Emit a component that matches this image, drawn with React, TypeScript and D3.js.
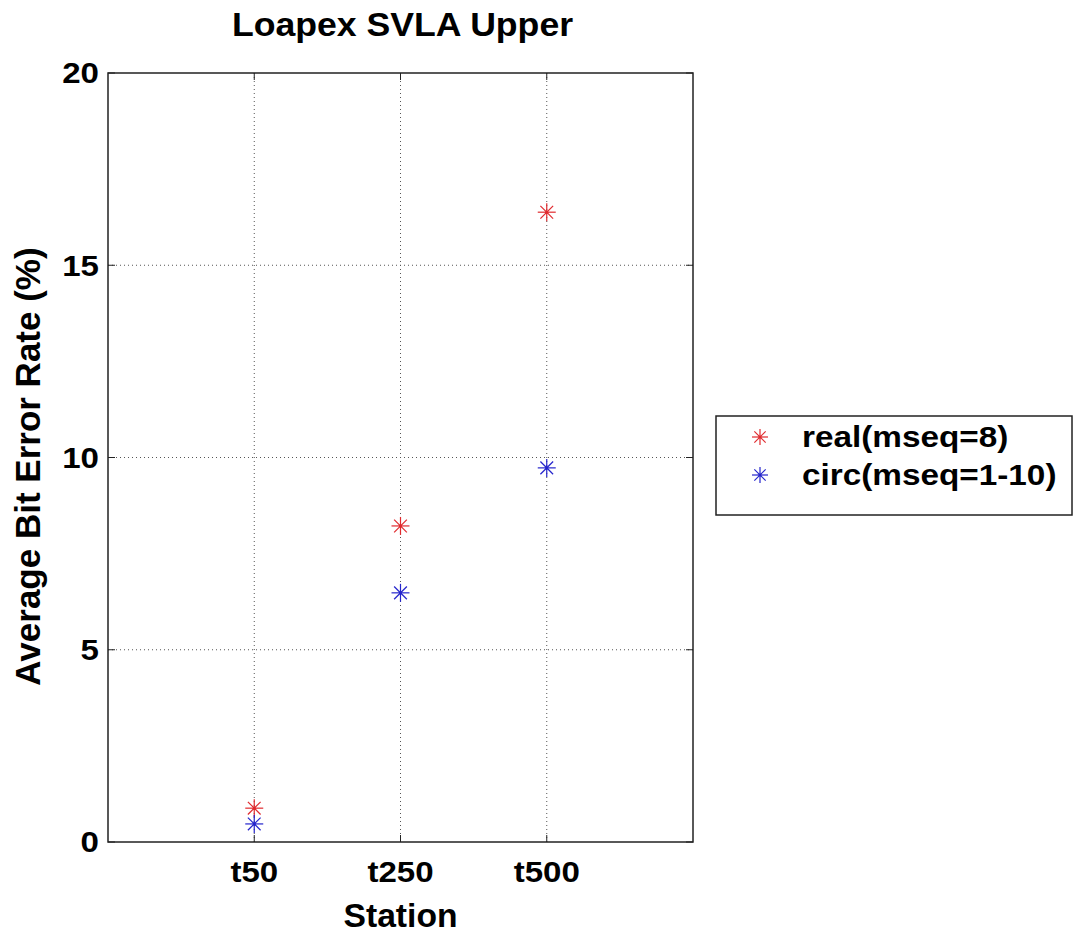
import React, { useEffect, useRef } from 'react';
import * as d3 from 'd3';

const stations = ['t50', 't250', 't500'];
const realValues = [0.88, 8.22, 16.38];
const circValues = [0.47, 6.48, 9.73];
const yTicks = [0, 5, 10, 15, 20];
const seriesNames = ['real(mseq=8)', 'circ(mseq=1-10)'];
const seriesColors = ['#e02a2e', '#2424cc'];

const width = 1074;
const height = 933;

type G = d3.Selection<SVGGElement, unknown, null, undefined>;

export default function App() {
  const svgRef = useRef<SVGSVGElement>(null);

  useEffect(() => {
    if (!svgRef.current) return;
    const svg = d3.select(svgRef.current);
    svg.selectAll('*').remove();

    const margin = { top: 73, right: 381, bottom: 91, left: 108 };
    const innerWidth = width - margin.left - margin.right;
    const innerHeight = height - margin.top - margin.bottom;
    const font = "'Liberation Sans', Arial, sans-serif";

    const x = d3.scaleLinear().domain([0, stations.length + 1]).range([0, innerWidth]);
    const y = d3.scaleLinear().domain([0, 20]).range([innerHeight, 0]);

    // text helper: horizontal stretch to mimic the wide Helvetica of the original
    const label = (parent: any, tx: number, ty: number, txt: string, size: number, sx: number, anchor: string, dy = '0') => {
      parent.append('g')
        .attr('transform', `translate(${tx},${ty}) scale(${sx},1)`)
        .append('text')
        .attr('text-anchor', anchor)
        .attr('dy', dy)
        .style('font-family', font).style('font-weight', 'bold').style('font-size', `${size}px`)
        .text(txt);
    };

    const g = svg.append('g').attr('transform', `translate(${margin.left},${margin.top})`);

    // grid
    stations.forEach((_, i) => {
      g.append('line')
        .attr('x1', x(i + 1)).attr('x2', x(i + 1))
        .attr('y1', 0).attr('y2', innerHeight)
        .attr('stroke', '#555').attr('stroke-width', 1).attr('stroke-dasharray', '1,3');
    });
    yTicks.slice(1, -1).forEach(t => {
      g.append('line')
        .attr('x1', 0).attr('x2', innerWidth)
        .attr('y1', y(t)).attr('y2', y(t))
        .attr('stroke', '#555').attr('stroke-width', 1).attr('stroke-dasharray', '1,3');
    });

    // box
    g.append('rect')
      .attr('x', 0).attr('y', 0).attr('width', innerWidth).attr('height', innerHeight)
      .attr('fill', 'none').attr('stroke', '#222').attr('stroke-width', 1.5);

    // ticks (inside, both sides)
    const tl = 7;
    yTicks.forEach(t => {
      g.append('line').attr('x1', 0).attr('x2', tl).attr('y1', y(t)).attr('y2', y(t)).attr('stroke', '#222');
      g.append('line').attr('x1', innerWidth - tl).attr('x2', innerWidth).attr('y1', y(t)).attr('y2', y(t)).attr('stroke', '#222');
      label(g, -9, y(t), String(t), 29, 1.14, 'end', '0.36em');
    });
    stations.forEach((s, i) => {
      g.append('line').attr('x1', x(i + 1)).attr('x2', x(i + 1)).attr('y1', innerHeight).attr('y2', innerHeight - tl).attr('stroke', '#222');
      g.append('line').attr('x1', x(i + 1)).attr('x2', x(i + 1)).attr('y1', 0).attr('y2', tl).attr('stroke', '#222');
      label(g, x(i + 1), innerHeight + 40, s, 29, 1.14, 'middle');
    });

    // star marker
    const star = (sel: G, cx: number, cy: number, color: string, r: number) => {
      const m = sel.append('g').attr('transform', `translate(${cx},${cy})`);
      const d = r * Math.SQRT1_2;
      [[-r, 0, r, 0], [0, -r, 0, r], [-d, -d, d, d], [-d, d, d, -d]].forEach(([a, b, c, e]) => {
        m.append('line').attr('x1', a).attr('y1', b).attr('x2', c).attr('y2', e)
          .attr('stroke', color).attr('stroke-width', 1.2);
      });
      m.append('circle').attr('r', 1.6).attr('fill', color);
    };

    [realValues, circValues].forEach((vals, si) => {
      vals.forEach((v, i) => star(g, x(i + 1), y(v), seriesColors[si], 9));
    });

    // titles
    label(svg, margin.left + innerWidth / 2 + 2, 36, 'Loapex SVLA Upper', 33, 1.08, 'middle');
    label(svg, margin.left + innerWidth / 2, 927, 'Station', 33, 1.02, 'middle');
    svg.append('text')
      .attr('transform', `translate(40,${margin.top + innerHeight / 2 + 9}) rotate(-90)`)
      .attr('text-anchor', 'middle')
      .style('font-family', font).style('font-weight', 'bold').style('font-size', '35px')
      .text('Average Bit Error Rate (%)');

    // legend
    const lg = svg.append('g').attr('transform', 'translate(716,416)');
    lg.append('rect').attr('x', 0).attr('y', 0).attr('width', 356).attr('height', 99)
      .attr('fill', 'white').attr('stroke', '#222').attr('stroke-width', 1.5);
    seriesNames.forEach((name, i) => {
      const yy = 21 + i * 38;
      star(lg, 44, yy, seriesColors[i], 8);
      label(lg, 86, yy + 10, name, 30, 1.11, 'start');
    });
  }, []);

  return (
    <svg
      ref={svgRef}
      width={width}
      height={height}
      style={{ position: 'absolute', left: 0, top: 0, background: 'white' }}
    />
  );
}
